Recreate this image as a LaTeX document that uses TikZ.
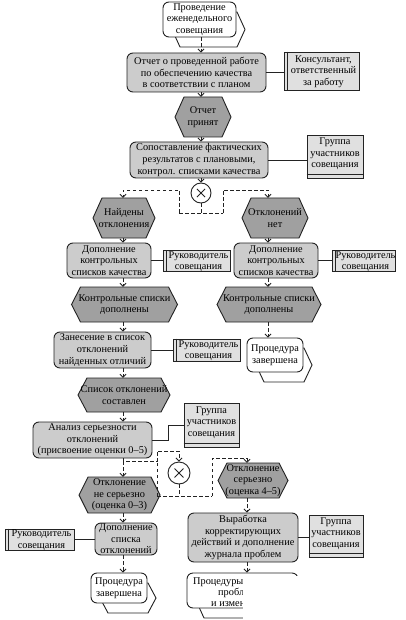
\documentclass[tikz,border=0pt]{standalone}
\usepackage{fontspec}
\setmainfont{Liberation Serif}
\usetikzlibrary{arrows.meta,calc}
\definecolor{funcfill}{RGB}{204,204,204}
\definecolor{evfill}{RGB}{160,160,160}
\definecolor{orgfill}{RGB}{224,224,224}
\definecolor{edge}{RGB}{35,35,35}
\tikzset{
 base/.style={font=\fontsize{10.3}{11.6}\selectfont, align=center, inner sep=0pt, text=black},
 funcbox/.style={draw=edge, line width=0.9pt, fill=funcfill, rounded corners=6pt, inner sep=0pt},
 evshape/.style={draw=edge, line width=0.9pt, fill=evfill},
 pibox/.style={draw=edge, line width=0.9pt, fill=white, rounded corners=6pt, inner sep=0pt},
 pihex/.style={draw=edge, line width=0.9pt, fill=white},
 orgbox/.style={draw=edge, line width=0.9pt, fill=orgfill, inner sep=0pt},
 plain/.style={inner sep=0pt},
 flow/.style={draw=edge, line width=0.8pt, dash pattern=on 3.5pt off 2.5pt, -{Straight Barb[length=3pt,width=6pt]}},
 flowline/.style={draw=edge, line width=0.8pt, dash pattern=on 3.5pt off 2.5pt},
 assoc/.style={draw=edge, line width=0.9pt},
 xorc/.style={circle, draw=edge, line width=0.9pt, fill=white, inner sep=0pt},
}
% name cx cy w h text
\newcommand\evt[6]{%
  \path[evshape] (#2-#4/2,#3) -- (#2-#4/2+9,#3-#5/2) -- (#2+#4/2-9,#3-#5/2) -- (#2+#4/2,#3) -- (#2+#4/2-9,#3+#5/2) -- (#2-#4/2+9,#3+#5/2) -- cycle;
  \node[plain, minimum width=#4, minimum height=#5] (#1) at (#2,#3) {};
  \node[base] at (#2,#3) {#6};}
\newcommand\func[6]{%
  \node[funcbox, minimum width=#4, minimum height=#5] (#1) at (#2,#3) {};
  \node[base] at (#2,#3) {#6};}
\newcommand\procif[6]{%
  \path[pihex] (#2+9-#4/2,#3+10) -- (#2+9-#4/2+8,#3+10-#5/2) -- (#2+9+#4/2-8,#3+10-#5/2) -- (#2+9+#4/2,#3+10) -- (#2+9+#4/2-8,#3+10+#5/2) -- (#2+9-#4/2+8,#3+10+#5/2) -- cycle;
  \node[pibox, minimum width=#4, minimum height=#5] (#1) at (#2,#3) {};
  \node[base] at (#2,#3) {#6};}
\newcommand\orgL[6]{%
  \node[orgbox, minimum width=#4, minimum height=#5] (#1) at (#2,#3) {};
  \draw[assoc] ([xshift=4pt]#1.north west) -- ([xshift=4pt]#1.south west);
  \node[base] at (#2+2,#3+0.5) {#6};}
\newcommand\orgB[6]{%
  \node[orgbox, minimum width=#4, minimum height=#5] (#1) at (#2,#3) {};
  \draw[assoc] ([yshift=4pt]#1.south west) -- ([yshift=4pt]#1.south east);
  \node[base] at (#2,#3-2.5) {#6};}
\newcommand\xmark[1]{%
  \draw[assoc] ($(#1.center)!0.55!(#1.45)$) -- ($(#1.center)!0.55!(#1.225)$);
  \draw[assoc] ($(#1.center)!0.55!(#1.135)$) -- ($(#1.center)!0.55!(#1.315)$);}
\begin{document}
\begin{tikzpicture}[x=1pt,y=-1pt]
\fill[white] (0,0) rectangle (405,620);
\useasboundingbox (0,0) rectangle (405,620);
\coordinate (cM) at (201,0);
\coordinate (cL) at (123,0);
\coordinate (cR) at (268,0);
\coordinate (cB) at (247,0);

% nodes
\procif{P1}{199.5}{19.5}{73}{35}{Проведение\\еженедельного\\совещания}
\func{F1}{196.5}{72.5}{139}{39}{Отчет о проведенной работе\\по обеспечению качества\\в соответствии с планом}
\orgL{O1}{321.5}{71}{75}{38}{Консультант,\\ответственный\\за работу}
\evt{E1}{203}{117}{56}{40}{Отчет\\принят}
\func{F2}{199}{160}{138}{36}{Сопоставление фактических\\результатов с плановыми,\\контрол. списками качества}
\orgB{O2}{335}{156.5}{56}{43}{Группа\\участников\\совещания}
\node[xorc, minimum size=20] (X1) at (201,193) {};
\xmark{X1}
\evt{E2}{124}{218}{62}{40}{Найдены\\отклонения}
\evt{E3}{275}{218}{66}{40}{Отклонений\\нет}
\func{F3}{109}{260.5}{84}{35}{Дополнение\\контрольных\\списков качества}
\orgL{O3}{196.5}{261}{67}{21}{Руководитель\\совещания}
\func{F4}{276}{260.5}{84}{35}{Дополнение\\контрольных\\списков качества}
\orgL{O4}{363.5}{261}{63}{21}{Руководитель\\совещания}
\evt{E4}{124.5}{304.5}{106}{35}{Контрольные списки\\дополнены}
\evt{E6}{269}{304.5}{104}{35}{Контрольные списки\\дополнены}
\func{F5}{102.5}{350}{97}{36}{Занесение в список\\отклонений\\найденных отличий}
\orgL{O5}{206.5}{350}{67}{22}{Руководитель\\совещания}
\procif{P2}{275}{355}{56}{34}{Процедура\\завершена}
\evt{E5}{124}{395}{92}{34}{Список отклонений\\составлен}
\func{F6}{92.5}{440}{119}{36}{Анализ серьезности\\отклонений\\(присвоение оценки 0–5)}
\orgB{O6}{211.5}{425}{55}{44}{Группа\\участников\\совещания}
\node[xorc, minimum size=22] (X2) at (179,473) {};
\xmark{X2}
\evt{E7}{119.5}{495}{81}{36}{Отклонение\\не серьезно\\(оценка 0–3)}
\evt{E8}{253}{480.5}{70}{35}{Отклонение\\серьезно\\(оценка 4–5)}
\func{F7}{126}{539}{62}{32}{Дополнение\\списка\\отклонений}
\orgL{O7}{39.5}{539.5}{69}{21}{Руководитель\\совещания}
\procif{P3}{119}{588}{56}{30}{Процедура\\завершена}
\func{F8}{243}{537.5}{110}{49}{Выработка\\корректирующих\\действий и дополнение\\журнала проблем}
\orgB{O8}{336}{536}{54}{42}{Группа\\участников\\совещания}
\procif{P4}{242.5}{590.5}{111}{35}{}
\node[base, anchor=base west] (t1) at (193,584) {Процедуры};
\node[base, anchor=base west] (t2) at (218,595) {пробл};
\node[base, anchor=base west] (t3) at (211,606) {и измен};

% control flow, main column
\draw[flow] (cM |- P1.south) -- (cM |- F1.north);
\draw[flow] (cM |- F1.south) -- (cM |- E1.north);
\draw[flow] (cM |- E1.south) -- (cM |- F2.north);
\draw[flow] (cM |- F2.south) -- (X1.north);
\coordinate (s1) at (201,213);
\coordinate (s1l) at (179,190);
\coordinate (s1r) at (223,190);
\draw[flowline] (X1.south) -- (s1);
\draw[flowline] (s1l |- s1) -- (s1r |- s1);
\draw[flow] (s1l |- s1) -- (s1l) -- (s1l -| cL) -- (cL |- E2.north);
\draw[flow] (s1r |- s1) -- (s1r) -- (s1r -| cR) -- (cR |- E3.north);
% left column
\draw[flow] (cL |- E2.south) -- (cL |- F3.north);
\draw[flow] (cL |- F3.south) -- (cL |- E4.north);
\draw[flow] (cL |- E4.south) -- (cL |- F5.north);
\draw[flow] (cL |- F5.south) -- (cL |- E5.north);
\draw[flow] (cL |- E5.south) -- (cL |- F6.north);
\coordinate (a1) at (123,461);
\coordinate (a2) at (157,461);
\coordinate (a3) at (157,451);
\coordinate (b0) at (157,496);
\coordinate (b1) at (179,496);
\coordinate (b2) at (212,496);
\coordinate (b3) at (212,458);
\draw[flow] (cL |- F6.south) -- (a1) -- (a2) -- (a3) -- (X2.north |- a3) -- (X2.north);
\draw[flowline] (X2.south) -- (b1);
\draw[flowline] (b0) -- (b2);
\draw[flowline] (b0) -- (a2);
\draw[flow] (a1) -- (cL |- E7.north);
\draw[flow] (b2) -- (b3) -- (b3 -| cB) -- (cB |- E8.north);
\draw[flow] (cL |- E7.south) -- (cL |- F7.north);
\draw[flow] (cL |- F7.south) -- (cL |- P3.north);
% right column
\draw[flow] (cR |- E3.south) -- (cR |- F4.north);
\draw[flow] (cR |- F4.south) -- (cR |- E6.north);
\draw[flow] (cR |- E6.south) -- (cR |- P2.north);
\draw[flow] (cB |- E8.south) -- (cB |- F8.north);
\draw[flow] (cB |- F8.south) -- (cB |- P4.north);

% associations
\draw[assoc] (F1.east) -- (O1.west |- F1.east);
\draw[assoc] (F2.east) -- (O2.west |- F2.east);
\draw[assoc] (F3.east) -- (O3.west |- F3.east);
\draw[assoc] (F4.east) -- (O4.west |- F4.east);
\draw[assoc] (F5.east) -- (O5.west |- F5.east);
\draw[assoc] (F6.east) -- ++(16,0) |- (O6.west);
\draw[assoc] (F7.west) -- (O7.east |- F7.west);
\draw[assoc] (F8.east) -- (O8.west |- F8.east);

% covered corner
\fill[white] (243,576) rectangle (405,620);
\end{tikzpicture}
\end{document}
